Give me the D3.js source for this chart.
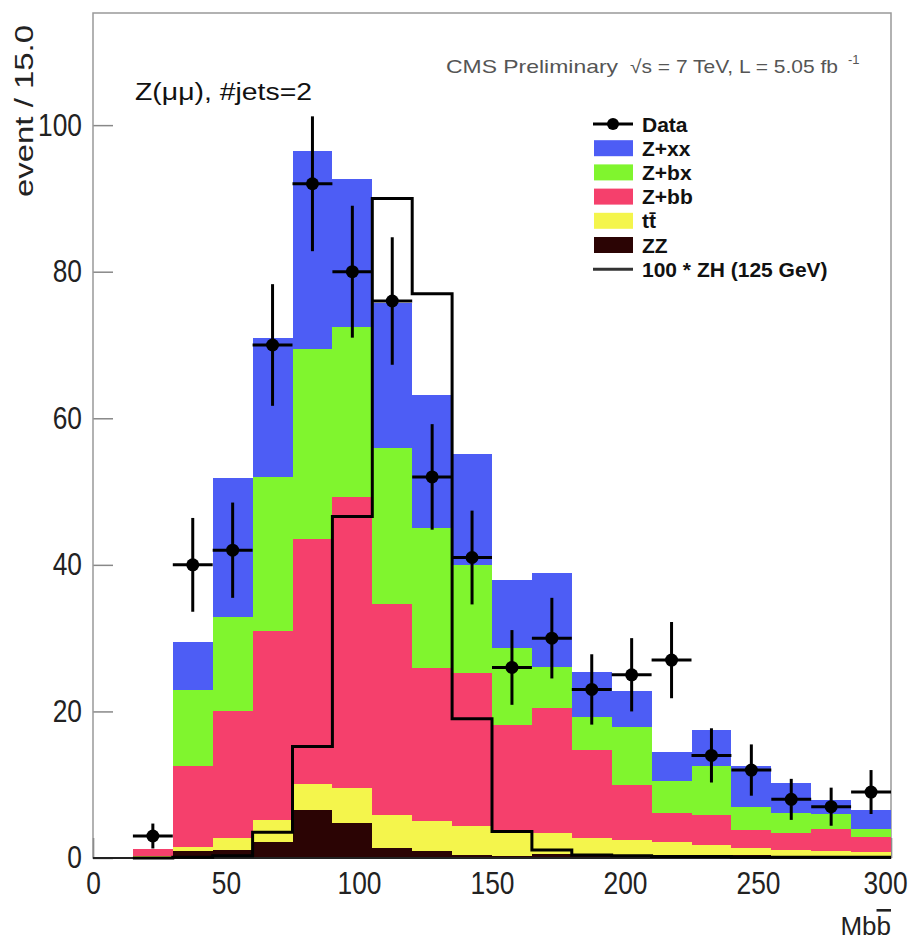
<!DOCTYPE html>
<html><head><meta charset="utf-8">
<script src="https://cdn.jsdelivr.net/npm/d3@7"></script>
<style>body{margin:0;background:#fff;} svg{display:block;font-family:"Liberation Sans",Arial,sans-serif}</style>
</head><body>
<svg id="c" width="910" height="941"></svg>
<script>
// ---- data ----
const binLow   = [15,30,45,60,75,90,105,120,135,150,165,180,195,210,225,240,255,270,285];
const binWidth = 15;
const zzVals   = [0.2,0.9,1.1,2.2,6.5,4.8,1.4,0.9,0.4,0.3,0.5,0.3,0.3,0.4,0.3,0.4,0.2,0.2,0.2];
const ttVals   = [0.1,0.6,1.6,3.0,3.6,4.8,4.5,4.2,3.9,3.3,2.9,2.4,2.1,1.8,1.5,1.0,0.9,0.7,0.6];
const zbbVals  = [0.9,11.0,17.3,25.8,33.4,39.7,28.7,20.8,20.9,14.5,17.0,12.0,7.6,3.9,4.1,2.4,2.3,3.0,2.1];
const zbxVals  = [0.0,10.4,12.9,21.0,25.9,23.1,21.4,19.1,14.8,10.5,5.7,4.6,7.9,4.4,6.6,3.2,2.8,2.1,1.0];
const zxxVals  = [0.0,6.6,18.9,19.0,27.1,20.2,19.7,18.2,15.1,9.4,12.8,6.1,4.9,3.9,5.0,5.5,4.0,1.9,2.6];
const zhVals   = [0,0.1,0.3,3.5,15.2,46.6,90,77,19,3.6,1.1,0.4,0.3,0.2,0.2,0.1,0.1,0.1,0.1];
const dataVals = [3,40,42,70,92,80,76,52,41,26,30,23,25,27,14,12,8,7,9];
const dataErr  = [1.7,6.4,6.5,8.3,9.2,9.0,8.7,7.2,6.4,5.1,5.5,4.8,5.0,5.2,3.7,3.5,2.8,2.6,3.0];
const xTicks   = [0,50,100,150,200,250,300];
const xMinor   = [10,20,30,40,60,70,80,90,110,120,130,140,160,170,180,190,210,220,230,240,260,270,280,290];
const yTicks   = [0,20,40,60,80,100];
const yMinor   = [5,10,15,25,30,35,45,50,55,65,70,75,85,90,95,105,110,115];
const seriesKeys   = ["zz","tt","zbb","zbx","zxx"];
const seriesLabels = {zxx:"Z+xx", zbx:"Z+bx", zbb:"Z+bb", tt:"tt\u0304", zz:"ZZ"};
const seriesColors = {zxx:"#4d5df5", zbx:"#80f52e", zbb:"#f5406c", tt:"#f4f54c", zz:"#2b0404"};

// ---- scales ----
const svg = d3.select("#c");
const x = d3.scaleLinear().domain([0,300]).range([93,891]);
const y = d3.scaleLinear().domain([0,115.3]).range([858,13]);

const rows = binLow.map((lo,i)=>({lo, zz:zzVals[i], tt:ttVals[i], zbb:zbbVals[i], zbx:zbxVals[i], zxx:zxxVals[i]}));
const stacked = d3.stack().keys(seriesKeys)(rows);

// ---- axes (ticks under the fills) ----
const gx = svg.append("g").attr("transform","translate(0,858)");
gx.call(d3.axisBottom(x).tickValues(xMinor).tickSizeInner(-10).tickSizeOuter(0).tickFormat(""));
gx.call(d3.axisBottom(x).tickValues(xTicks).tickSizeInner(-20).tickSizeOuter(0).tickPadding(14).tickFormat(d3.format("d")));
gx.selectAll("line").attr("stroke","#666").attr("stroke-width",1.5);
gx.selectAll(".domain").remove();
gx.selectAll("text").attr("font-size",31).attr("fill","#222")
  .attr("font-family","Liberation Sans, Arial, sans-serif")
  .attr("transform","scale(0.85,1)")
  .attr("x",d=>d===300?-7:0);

const gy = svg.append("g").attr("transform","translate(93,0)");
gy.call(d3.axisLeft(y).tickValues(yMinor).tickSizeInner(-8).tickSizeOuter(0).tickFormat(""));
gy.call(d3.axisLeft(y).tickValues(yTicks).tickSizeInner(-20).tickSizeOuter(0).tickPadding(13).tickFormat(d3.format("d")));
gy.selectAll("line").attr("stroke","#888").attr("stroke-width",1.5);
gy.selectAll(".domain").remove();
gy.selectAll("text").attr("font-size",31).attr("fill","#222")
  .attr("font-family","Liberation Sans, Arial, sans-serif")
  .attr("transform","scale(0.85,1)");

// frame
svg.append("rect").attr("x",x(0)).attr("y",y(115.3)).attr("width",x(300)-x(0)).attr("height",y(0)-y(115.3))
  .attr("fill","none").attr("stroke","#999").attr("stroke-width",1.5);

// ---- stacked fills ----
const layers = svg.append("g").attr("shape-rendering","crispEdges");
stacked.forEach(layer=>{
  layers.append("g").attr("fill",seriesColors[layer.key])
    .selectAll("rect").data(layer).join("rect")
    .attr("x",d=>x(d.data.lo))
    .attr("width",d=>x(d.data.lo+binWidth)-x(d.data.lo))
    .attr("y",d=>y(d[1]))
    .attr("height",d=>Math.max(0,y(d[0])-y(d[1])));
});

// bottom axis line on top
svg.append("line").attr("x1",x(0)).attr("x2",x(300)).attr("y1",y(0)).attr("y2",y(0))
  .attr("stroke","#222").attr("stroke-width",2);

// ---- ZH line ----
const zhPts = [[binLow[0],0]].concat(binLow.map((lo,i)=>[lo,zhVals[i]]), [[binLow[binLow.length-1]+binWidth, zhVals[zhVals.length-1]]]);
svg.append("path")
  .attr("d", d3.line().x(d=>x(d[0])).y(d=>y(d[1])).curve(d3.curveStepAfter)(zhPts))
  .attr("fill","none").attr("stroke","#000").attr("stroke-width",3);

// ---- data points ----
const gd = svg.append("g");
binLow.forEach((lo,i)=>{
  const cx = x(lo+binWidth/2), cy = y(dataVals[i]);
  gd.append("line").attr("x1",x(lo)).attr("x2",x(lo+binWidth)).attr("y1",cy).attr("y2",cy)
    .attr("stroke","#000").attr("stroke-width",3);
  gd.append("line").attr("x1",cx).attr("x2",cx).attr("y1",y(dataVals[i]+dataErr[i])).attr("y2",y(dataVals[i]-dataErr[i]))
    .attr("stroke","#000").attr("stroke-width",3);
  gd.append("circle").attr("cx",cx).attr("cy",cy).attr("r",6.5).attr("fill","#000");
});

// ---- legend ----
const lg = svg.append("g");
const legRows = [{type:"data",label:"Data"}]
  .concat(["zxx","zbx","zbb","tt","zz"].map(k=>({type:"box",key:k,label:seriesLabels[k]})))
  .concat([{type:"line",label:"100 * ZH (125 GeV)"}]);
legRows.forEach((r,i)=>{
  const cy = 124 + i*24.2;
  if(r.type==="data"){
    lg.append("line").attr("x1",593).attr("x2",633).attr("y1",cy).attr("y2",cy).attr("stroke","#000").attr("stroke-width",3);
    lg.append("circle").attr("cx",613).attr("cy",cy).attr("r",6).attr("fill","#000");
  } else if(r.type==="box"){
    lg.append("rect").attr("x",594).attr("y",cy-8).attr("width",39).attr("height",16).attr("fill",seriesColors[r.key]);
  } else {
    lg.append("line").attr("x1",593).attr("x2",633).attr("y1",cy).attr("y2",cy).attr("stroke","#333").attr("stroke-width",3);
  }
  lg.append("text").attr("x",642).attr("y",cy).attr("dy","0.36em").attr("font-size",21).attr("font-weight","bold")
    .attr("fill","#111").text(r.label);
});

// ---- texts ----
svg.append("text").attr("x",446).attr("y",73).attr("font-size",19).attr("fill","#555")
  .attr("textLength",172).attr("lengthAdjust","spacingAndGlyphs").text("CMS Preliminary");
svg.append("text").attr("x",630).attr("y",73).attr("font-size",19).attr("fill","#555")
  .attr("textLength",208).attr("lengthAdjust","spacingAndGlyphs").text("\u221As = 7 TeV, L = 5.05 fb");
svg.append("text").attr("x",848).attr("y",64).attr("font-size",13).attr("fill","#555").text("-1");

svg.append("text").attr("x",135).attr("y",100).attr("font-size",23).attr("fill","#111")
  .attr("textLength",177).attr("lengthAdjust","spacingAndGlyphs").text("Z(\u03BC\u03BC), #jets=2");

svg.append("text").attr("transform","translate(33,25) rotate(-90)").attr("text-anchor","end")
  .attr("font-size",26).attr("fill","#222")
  .attr("textLength",172).attr("lengthAdjust","spacingAndGlyphs").text("event / 15.0");

const xl = svg.append("text").attr("x",891).attr("y",935).attr("text-anchor","end").attr("font-size",26).attr("fill","#222");
xl.append("tspan").text("Mb");
xl.append("tspan").attr("text-decoration","overline").text("b");
</script>
</body></html>
